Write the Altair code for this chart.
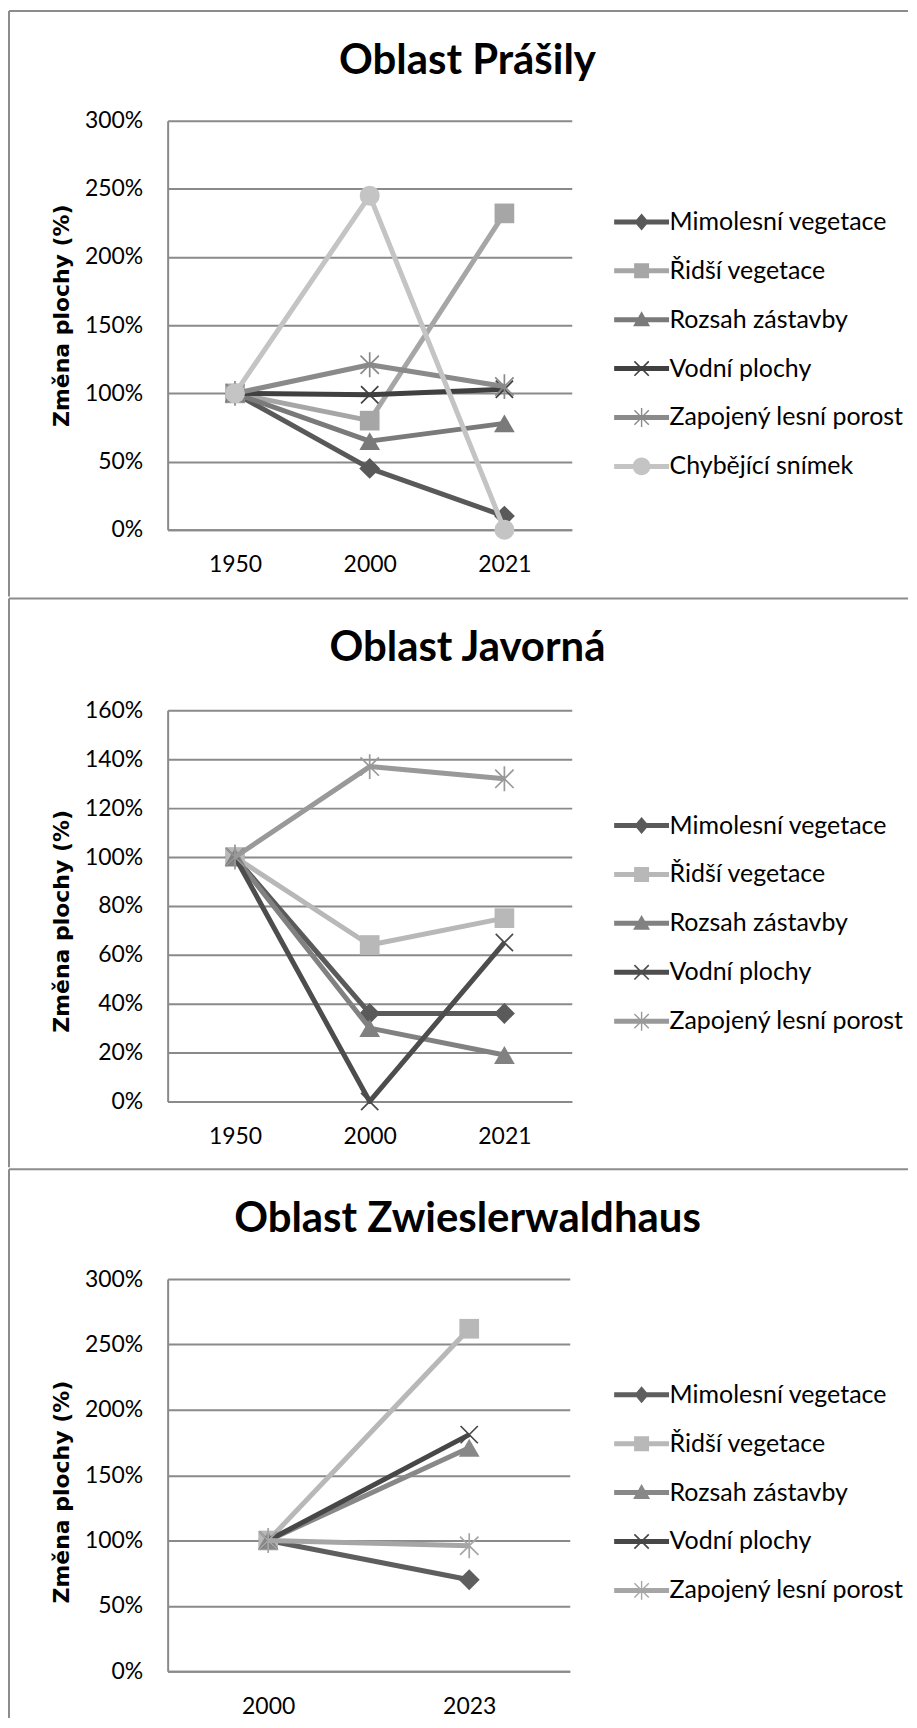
import altair as alt
import pandas as pd

# ---------------- data ----------------
SERIES = ["Mimolesní vegetace", "Řidší vegetace", "Rozsah zástavby",
          "Vodní plochy", "Zapojený lesní porost", "Chybějící snímek"]

# Oblast Prášily
prasily_years = ["1950", "2000", "2021"]
prasily_mimolesni = [1.00, 0.45, 0.10]
prasily_ridsi = [1.00, 0.80, 2.32]
prasily_rozsah = [1.00, 0.65, 0.78]
prasily_vodni = [1.00, 0.99, 1.03]
prasily_zapojeny = [1.00, 1.21, 1.05]
prasily_chybejici = [1.00, 2.45, 0.00]
prasily_ticks = [0, 0.5, 1.0, 1.5, 2.0, 2.5, 3.0]

# Oblast Javorná
javorna_years = ["1950", "2000", "2021"]
javorna_mimolesni = [1.00, 0.36, 0.36]
javorna_ridsi = [1.00, 0.64, 0.75]
javorna_rozsah = [1.00, 0.30, 0.19]
javorna_vodni = [1.00, 0.00, 0.65]
javorna_zapojeny = [1.00, 1.37, 1.32]
javorna_ticks = [0, 0.2, 0.4, 0.6, 0.8, 1.0, 1.2, 1.4, 1.6]

# Oblast Zwieslerwaldhaus
zw_years = ["2000", "2023"]
zw_mimolesni = [1.00, 0.70]
zw_ridsi = [1.00, 2.62]
zw_rozsah = [1.00, 1.71]
zw_vodni = [1.00, 1.81]
zw_zapojeny = [1.00, 0.96]
zw_ticks = [0, 0.5, 1.0, 1.5, 2.0, 2.5, 3.0]

# ---------------- styling ----------------
GRID = "#8a8a8a"
LABEL_FONT = "Lato"

X_PATH = "M-1,-1L1,1M-1,1L1,-1"
AST_PATH = "M-1,-1L1,1M-1,1L1,-1M0,-1.35L0,1.35"
MARKERS = {
    "Mimolesní vegetace": dict(shape="diamond", size=440, filled=True),
    "Řidší vegetace": dict(shape="square", size=390, filled=True),
    "Rozsah zástavby": dict(shape="triangle-up", size=430, filled=True),
    "Vodní plochy": dict(shape=X_PATH, size=300, filled=False, strokeWidth=1.7),
    "Zapojený lesní porost": dict(shape=AST_PATH, size=340, filled=False, strokeWidth=1.7),
    "Chybějící snímek": dict(shape="circle", size=400, filled=True),
}


def fmt(v):
    return ("%.3f" % v).rstrip("0").rstrip(".")


def poly(pts):
    area = 0.0
    for i in range(len(pts)):
        x0, y0 = pts[i]
        x1, y1 = pts[(i + 1) % len(pts)]
        area += x0 * y1 - x1 * y0
    if area < 0:
        pts = pts[::-1]
    return "M" + "L".join(fmt(x) + "," + fmt(y) for x, y in pts) + "Z"


def thick(xa, ya, xb, yb, t):
    dx, dy = xb - xa, yb - ya
    n = (dx * dx + dy * dy) ** 0.5
    nx, ny = -dy / n * t, dx / n * t
    return poly([(xa + nx, ya + ny), (xb + nx, yb + ny), (xb - nx, yb - ny), (xa - nx, ya - ny)])


# legend symbol = line segment + marker (unit = 10 px)
SH = 0.2
MX = -1.75 + SH
BAR = poly([(-4.5 + SH, -0.25), (1.0 + SH, -0.25), (1.0 + SH, 0.25), (-4.5 + SH, 0.25)])
LEG_PATHS = {
    "Mimolesní vegetace": BAR + poly([(MX, -0.85), (MX + 0.72, 0), (MX, 0.85), (MX - 0.72, 0)]),
    "Řidší vegetace": BAR + poly([(MX - 0.75, -0.75), (MX + 0.75, -0.75), (MX + 0.75, 0.75), (MX - 0.75, 0.75)]),
    "Rozsah zástavby": BAR + poly([(MX, -0.85), (MX + 0.85, 0.65), (MX - 0.85, 0.65)]),
    "Vodní plochy": BAR + thick(MX - 0.72, -0.72, MX + 0.72, 0.72, 0.08) + thick(MX - 0.72, 0.72, MX + 0.72, -0.72, 0.08),
    "Zapojený lesní porost": BAR + thick(MX - 0.72, -0.72, MX + 0.72, 0.72, 0.07)
    + thick(MX - 0.72, 0.72, MX + 0.72, -0.72, 0.07) + thick(MX, -0.95, MX, 0.95, 0.07),
    "Chybějící snímek": BAR + "M{a},0A0.88,0.88 0 1,1 {b},0A0.88,0.88 0 1,1 {a},0Z".format(a=fmt(MX - 0.88), b=fmt(MX + 0.88)),
}


def panel(title, years, names, value_lists, colors, ticks, w, h, geo):
    rows = []
    for n, vals in zip(names, value_lists):
        for yr, v in zip(years, vals):
            rows.append({"series": n, "year": yr, "value": v})
    df = pd.DataFrame(rows)

    x = alt.X("year:N", sort=years,
              scale=alt.Scale(type="point", domain=years, padding=0.5),
              axis=alt.Axis(title=None, labelAngle=0, ticks=False, grid=False,
                            domainColor=GRID, domainWidth=2,
                            labelFont=LABEL_FONT, labelFontSize=23, labelColor="black",
                            labelPadding=geo["xpad"]))
    y = alt.Y("value:Q",
              scale=alt.Scale(domain=[ticks[0], ticks[-1]], nice=False),
              axis=alt.Axis(values=ticks, format=".0%", tickSize=0, ticks=False,
                            grid=True, gridColor=GRID, gridWidth=2,
                            domainColor=GRID, domainWidth=2,
                            labelFont=LABEL_FONT, labelFontSize=23, labelColor="black",
                            labelPadding=25,
                            title="Změna plochy (%)", titleFont="DejaVu Sans",
                            titleFontSize=geo["tsize"], titleFontWeight="bold", titleColor="black",
                            titleAngle=270, titleX=-106, titleY=geo["ty"],
                            titleAlign="center", titleBaseline="middle"))

    one = alt.Data(values=[{"k": 1}])
    top_rule = alt.Chart(one).mark_rule(color="#8c8c8c", strokeWidth=2).encode(
        x=alt.value(-159), x2=alt.value(742), y=alt.value(geo["top"]))
    left_rule = alt.Chart(one).mark_rule(color="#8c8c8c", strokeWidth=2).encode(
        x=alt.value(-159), y=alt.value(geo["top"]), y2=alt.value(geo["bottom"]))

    layers = [top_rule, left_rule]
    base = alt.Chart(df)
    for n, c in zip(names, colors):
        m = MARKERS[n]
        sub = base.transform_filter(alt.datum.series == n)
        layers.append(sub.mark_line(color=c, strokeWidth=5, strokeJoin="round").encode(x=x, y=y))
        if m["filled"]:
            pt = sub.mark_point(shape=m["shape"], size=m["size"], filled=True, color=c, opacity=1)
        else:
            pt = sub.mark_point(shape=m["shape"], size=m["size"], filled=False, color=c, opacity=1,
                                strokeWidth=m["strokeWidth"])
        layers.append(pt.encode(x=x, y=y))

    leg = alt.Legend(title=None, orient="none", legendX=geo["lx"], legendY=geo["ly"],
                     labelFont=LABEL_FONT, labelFontSize=25, labelColor="black",
                     symbolSize=400, symbolStrokeWidth=0, symbolOpacity=1,
                     labelOffset=0, rowPadding=geo["rowpad"], padding=0, labelLimit=400)
    legend_layer = base.mark_point(filled=True, opacity=0).encode(
        x=x, y=y,
        color=alt.Color("series:N", scale=alt.Scale(domain=names, range=colors), legend=leg),
        shape=alt.Shape("series:N", scale=alt.Scale(domain=names, range=[LEG_PATHS[n] for n in names]),
                        legend=leg))
    layers.append(legend_layer)

    return alt.layer(*layers).properties(
        width=w, height=h,
        title=alt.TitleParams(text=title, frame="group", anchor="middle", dx=geo["tdx"],
                              offset=geo["toff"], font=LABEL_FONT, fontSize=42,
                              fontWeight="bold", color="black", baseline="alphabetic"))


p1 = panel("Oblast Prášily", prasily_years, SERIES,
           [prasily_mimolesni, prasily_ridsi, prasily_rozsah, prasily_vodni, prasily_zapojeny, prasily_chybejici],
           ["#595959", "#a6a6a6", "#7a7a7a", "#404040", "#8a8a8a", "#c4c4c4"],
           prasily_ticks, 405, 410,
           dict(top=-110, bottom=477, ty=195, tsize=22, lx=478, ly=89, rowpad=23,
                tdx=98, toff=-106, xpad=24))
p2 = panel("Oblast Javorná", javorna_years, SERIES[:5],
           [javorna_mimolesni, javorna_ridsi, javorna_rozsah, javorna_vodni, javorna_zapojeny],
           ["#5a5a5a", "#b8b8b8", "#818181", "#4d4d4d", "#999999"],
           javorna_ticks, 405, 392,
           dict(top=-112, bottom=458, ty=211, tsize=22, lx=478, ly=103, rowpad=23,
                tdx=98, toff=-106, xpad=24))
p3 = panel("Oblast Zwieslerwaldhaus", zw_years, SERIES[:5],
           [zw_mimolesni, zw_ridsi, zw_rozsah, zw_vodni, zw_zapojeny],
           ["#5e5e5e", "#b8b8b8", "#888888", "#474747", "#a6a6a6"],
           zw_ticks, 403, 393,
           dict(top=-110, bottom=440, ty=213, tsize=22, lx=478, ly=103.5, rowpad=23,
                tdx=99, toff=-106, xpad=24))

chart = alt.vconcat(p1, p2, p3, spacing=0).resolve_scale(
    color="independent", shape="independent"
).resolve_legend(
    color="independent", shape="independent"
).properties(
    padding=0, background="white"
).configure_view(strokeWidth=0)

chart.save("out.html", embed_options={"renderer": "svg", "actions": False})
